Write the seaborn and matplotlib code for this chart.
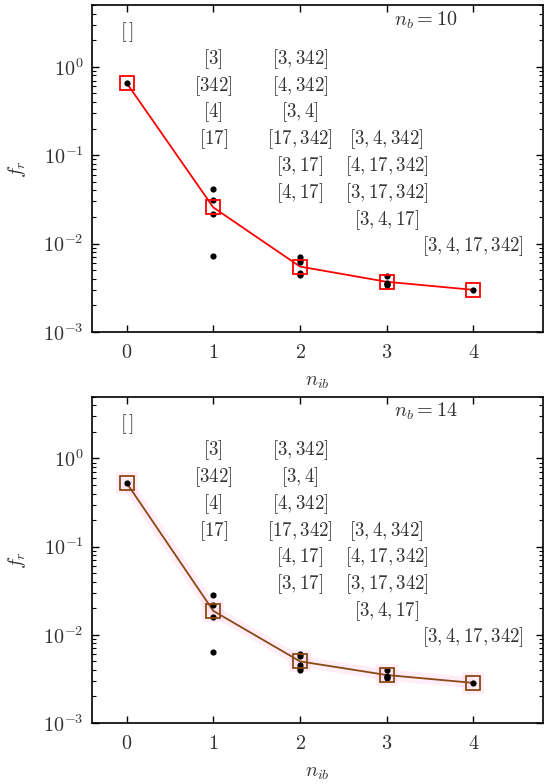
import numpy as np
import pandas as pd
import matplotlib
matplotlib.use("Agg")
import matplotlib.pyplot as plt
import seaborn as sns
from matplotlib.ticker import FuncFormatter, LogLocator, FixedLocator

# ---------------- data ----------------
n_ib = [0, 1, 2, 3, 4]

top_mean = [0.66, 0.0257, 0.0055, 0.0037, 0.0030]
top_dots_x = [0, 1, 1, 1, 1, 2, 2, 2, 2, 2, 2, 3, 3, 3, 3, 4]
top_dots_y = [0.66, 0.041, 0.031, 0.0214, 0.0073,
              0.0070, 0.0066, 0.0062, 0.0047, 0.0045, 0.0044,
              0.0043, 0.0035, 0.0034, 0.0036, 0.0030]

bot_mean = [0.53, 0.0187, 0.0050, 0.0035, 0.00285]
bot_dots_x = [0, 1, 1, 1, 1, 2, 2, 2, 2, 2, 3, 3, 3, 3, 4]
bot_dots_y = [0.53, 0.0285, 0.022, 0.0159, 0.0064,
              0.0061, 0.0057, 0.0045, 0.0040, 0.0042,
              0.0040, 0.0033, 0.0032, 0.0034, 0.00285]

labels0 = ["[]"]
top_labels1 = ["[3]", "[342]", "[4]", "[17]"]
top_labels2 = ["[3, 342]", "[4, 342]", "[3, 4]", "[17, 342]", "[3, 17]", "[4, 17]"]
top_labels3 = ["[3, 4, 342]", "[4, 17, 342]", "[3, 17, 342]", "[3, 4, 17]"]
labels4 = ["[3, 4, 17, 342]"]

bot_labels1 = ["[3]", "[342]", "[4]", "[17]"]
bot_labels2 = ["[3, 342]", "[3, 4]", "[4, 342]", "[17, 342]", "[4, 17]", "[3, 17]"]
bot_labels3 = ["[3, 4, 342]", "[4, 17, 342]", "[3, 17, 342]", "[3, 4, 17]"]

nb_values = [10, 14]

# ---------------- style ----------------
sns.set_style("ticks")
plt.rcParams["mathtext.fontset"] = "cm"
plt.rcParams["font.family"] = ["DejaVu Serif"]
plt.rcParams["xtick.direction"] = "in"
plt.rcParams["ytick.direction"] = "in"

fig = plt.figure(figsize=(5.5, 7.84), dpi=100)
ax_top = fig.add_axes([0.167, 0.5765, 0.82, 0.417])
ax_bot = fig.add_axes([0.167, 0.0778, 0.82, 0.416])

TXT = "#333333"


def mtext(s):
    if s == "[]":
        return r"$[\,]$"
    return "$" + s.replace(", ", ",").replace(",", ", ") + "$"


def row_y(i):
    return 10 ** (0.09 - 0.303 * i)


def draw(ax, mean, dx, dy, l1, l2, l3, nb, color, glow):
    df_mean = pd.DataFrame({"n": n_ib, "f": mean})
    df_dots = pd.DataFrame({"n": dx, "f": dy})
    if glow:
        sns.lineplot(data=df_mean, x="n", y="f", ax=ax, color="#ffd9ef",
                     lw=8, alpha=0.45, solid_capstyle="butt", zorder=1)
        sns.scatterplot(data=df_mean, x="n", y="f", ax=ax, marker="s", s=250,
                        color="#ffd9ef", alpha=0.45, linewidth=0, zorder=1)
    sns.lineplot(data=df_mean, x="n", y="f", ax=ax, color=color, lw=1.3, zorder=2)
    sns.scatterplot(data=df_dots, x="n", y="f", ax=ax, color="black", s=20,
                    linewidth=0, zorder=3)
    ax.plot(df_mean["n"], df_mean["f"], ls="none", marker="s", ms=10,
            mfc="none", mec=color, mew=1.3, zorder=4)

    ax.set_yscale("log")
    ax.set_xlim(-0.4, 4.8)
    ax.set_ylim(1e-3, 5)

    fs = 14.5
    fa = 13.6
    ax.text(0, 10 ** 0.39, mtext(labels0[0]), ha="center", va="center", fontsize=fs, color=TXT)
    for i, s in enumerate(l1):
        ax.text(1, row_y(i), mtext(s), ha="center", va="center", fontsize=fa, color=TXT)
    for i, s in enumerate(l2):
        ax.text(2, row_y(i), mtext(s), ha="center", va="center", fontsize=fa, color=TXT)
    for i, s in enumerate(l3):
        ax.text(3, row_y(i + 3), mtext(s), ha="center", va="center", fontsize=fa, color=TXT)
    ax.text(4, row_y(7), mtext(labels4[0]), ha="center", va="center", fontsize=fa, color=TXT)
    ax.text(3.45, 10 ** 0.53, r"$n_b = %d$" % nb, ha="center", va="center", fontsize=fs, color=TXT)

    ax.xaxis.set_major_locator(FixedLocator(n_ib))
    ax.xaxis.set_major_formatter(FuncFormatter(lambda v, p: r"$%d$" % int(round(v))))
    ax.yaxis.set_major_locator(LogLocator(base=10, numticks=10))
    ax.yaxis.set_minor_locator(LogLocator(base=10, subs=np.arange(2, 10), numticks=20))
    ax.yaxis.set_major_formatter(FuncFormatter(lambda v, p: r"$10^{%d}$" % int(round(np.log10(v)))))
    ax.tick_params(axis="both", which="both", top=True, right=True, labelsize=fs,
                   colors="black", labelcolor=TXT)
    ax.tick_params(axis="x", which="major", pad=8)
    ax.tick_params(axis="y", which="major", pad=6)
    ax.tick_params(which="major", length=5, width=1)
    ax.tick_params(which="minor", length=3, width=0.8)
    ax.set_xlabel(r"$n_{ib}$", fontsize=fs, color=TXT, labelpad=7)
    ax.set_ylabel(r"$f_r$", fontsize=fs, color=TXT, labelpad=11)
    for sp in ax.spines.values():
        sp.set_visible(True)
        sp.set_linewidth(1.2)
        sp.set_color("black")


draw(ax_top, top_mean, top_dots_x, top_dots_y, top_labels1, top_labels2, top_labels3,
     nb_values[0], "#ff0000", False)
draw(ax_bot, bot_mean, bot_dots_x, bot_dots_y, bot_labels1, bot_labels2, bot_labels3,
     nb_values[1], "#8b4a14", True)

fig.savefig("out.png", dpi=100)
